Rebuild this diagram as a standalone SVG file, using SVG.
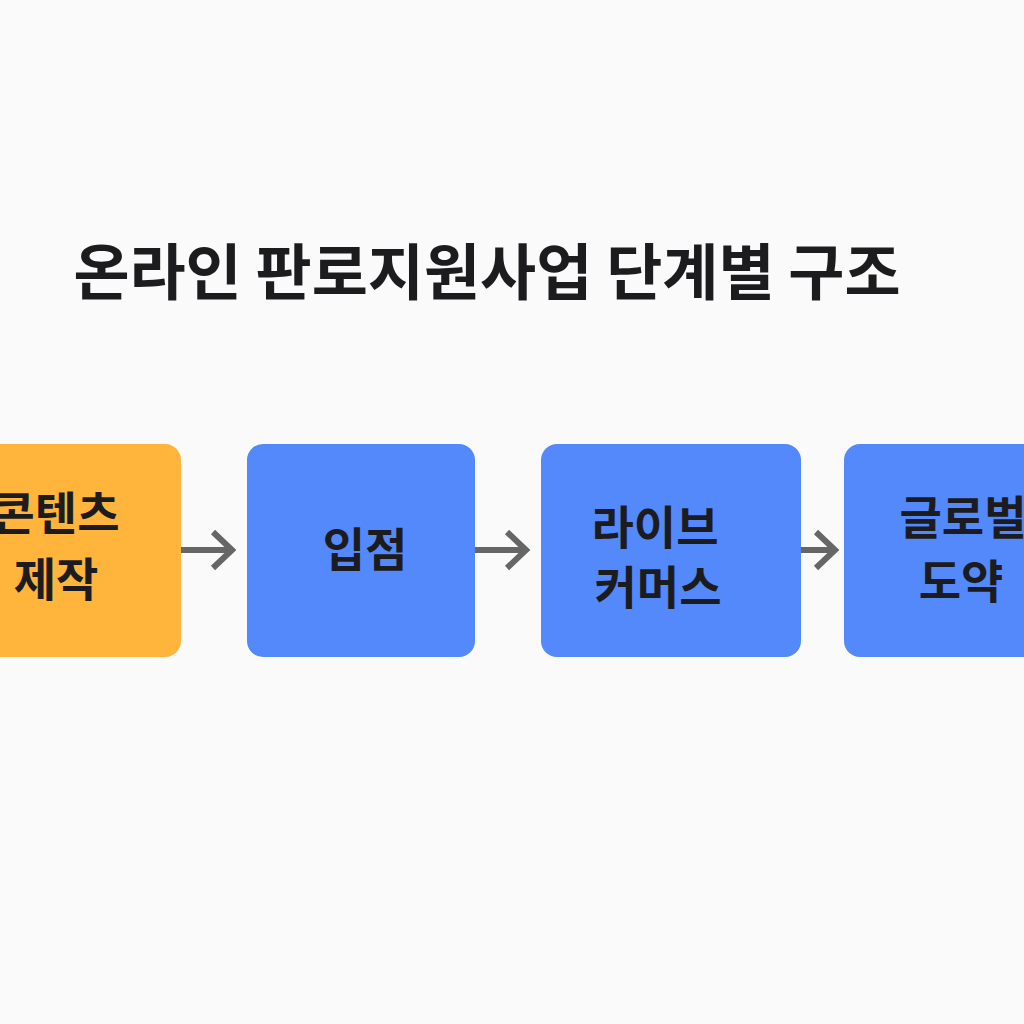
<svg xmlns="http://www.w3.org/2000/svg" width="1024" height="1024" viewBox="0 0 1024 1024">
<style>
.t{font-family:"Noto Sans CJK KR","Noto Sans",sans-serif;font-weight:700;fill:#1c1c1e;text-anchor:middle}
.orange{fill:#FFB43C}
.blue{fill:#5389FA}
.c{stroke:#666;stroke-width:6;fill:none}
</style>
<rect width="1024" height="1024" fill="#FAFAFA"/>
<text class="t" x="487" y="295" font-size="61">온라인 판로지원사업 단계별 구조</text>
<g id="connectors">
<path class="c" d="M181,550 H230"/>
<path class="c" d="M213,532 L232,550 L213,568"/>
<path class="c" d="M475,550 H525"/>
<path class="c" d="M507,532 L526,550 L507,568"/>
<path class="c" d="M801,550 H834"/>
<path class="c" d="M816,532 L835,550 L816,568"/>
</g>
<g id="n1">
<rect class="orange" x="-30" y="444" width="211" height="213" rx="16"/>
<text class="t" x="56" y="530" font-size="46">콘텐츠</text>
<text class="t" x="56" y="596" font-size="46">제작</text>
</g>
<g id="n2">
<rect class="blue" x="247" y="444" width="228" height="213" rx="16"/>
<text class="t" x="365" y="566" font-size="46">입점</text>
</g>
<g id="n3">
<rect class="blue" x="541" y="444" width="260" height="213" rx="16"/>
<text class="t" x="655" y="544" font-size="46">라이브</text>
<text class="t" x="658" y="604" font-size="46">커머스</text>
</g>
<g id="n4">
<rect class="blue" x="844" y="444" width="220" height="213" rx="16"/>
<text class="t" x="963" y="534" font-size="46">글로벌</text>
<text class="t" x="961" y="598" font-size="46">도약</text>
</g>
</svg>
